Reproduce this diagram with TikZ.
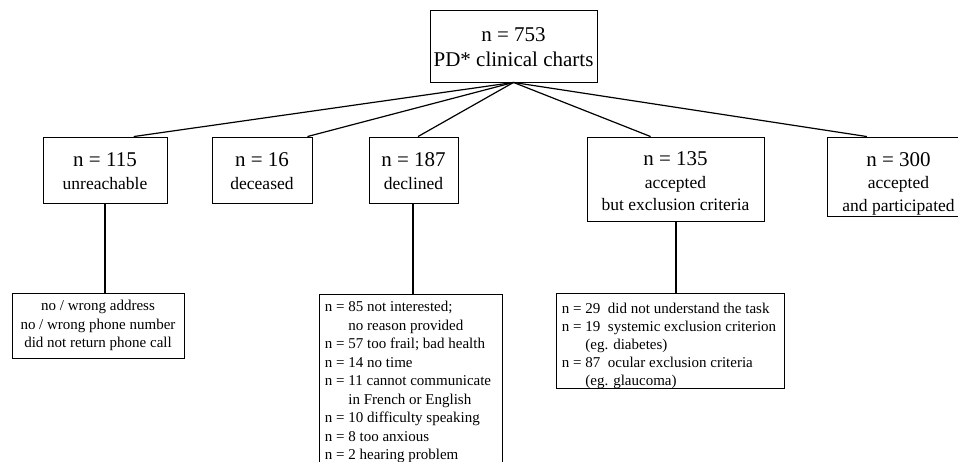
\documentclass[tikz,border=0pt]{standalone}
\usepackage{fontspec}
\setmainfont{Liberation Serif}
\usetikzlibrary{calc}
\begin{document}
\begin{tikzpicture}[x=1pt,y=-1pt,
  box/.style={draw, line width=0.9pt, inner sep=0pt, align=center, font=\fontsize{17.5}{22.5}\selectfont},
  link/.style={line width=1.2pt},
  detail/.style={draw, line width=0.9pt, inner xsep=5.5pt, inner ysep=2pt, font=\fontsize{15}{18.5}\selectfont},
]
\useasboundingbox (0,0) rectangle (958,462);
\clip (0,0) rectangle (958,462);
\newcommand{\bignum}[1]{{\fontsize{21}{22.5}\selectfont #1}}
% top
\node[box, minimum width=167pt, minimum height=72pt, font=\fontsize{21}{25}\selectfont] (top) at (513.5,46) {\rule{0pt}{17pt}n = 753\\PD* clinical charts};
% second row
\node[box, minimum width=124pt, minimum height=66pt] (n115) at (105,170) {\bignum{\rule{0pt}{16pt}n = 115}\\unreachable};
\node[box, minimum width=100pt, minimum height=66pt] (n16) at (262,170) {\bignum{\rule{0pt}{16pt}n = 16}\\deceased};
\node[box, minimum width=89pt, minimum height=66pt] (n187) at (413.5,170) {\bignum{\rule{0pt}{16pt}n = 187}\\declined};
\node[box, minimum width=177pt, minimum height=84pt] (n135) at (675.5,179) {\bignum{\rule{0pt}{19pt}n = 135}\\accepted\\but exclusion criteria};
\node[box, minimum width=143pt, minimum height=79pt] (n300) at (898.5,176.5) {\bignum{\rule{0pt}{28pt}n = 300}\\accepted\\and participated};
% detail boxes
\node[detail, minimum width=172pt, minimum height=65pt, inner sep=0pt, align=center] (d1) at (98,325.5) {no / wrong address\\no / wrong phone number\\did not return phone call};
\node[detail, anchor=north west, align=left] (d2) at (319,294) {%
\rule{0pt}{15.5pt}n = 85 not interested;\\
\hphantom{n =\ }no reason provided\\
n = 57 too frail; bad health\\
n = 14 no time\\
n = 11 cannot communicate\rule{6pt}{0pt}\\
\hphantom{n =\ }in French or English\\
n = 10 difficulty speaking\\
n = 8 too anxious\\
n = 2 hearing problem\\[10pt]};
\node[detail, anchor=north west, align=left, inner ysep=0pt, font=\fontsize{15}{18}\selectfont] (d3) at (556,293) {%
\rule{0pt}{20pt}n = 29\ \ did not understand the task\\
n = 19\ \ systemic exclusion criterion\rule{3pt}{0pt}\\
\hphantom{n =\ }(eg. diabetes)\\
n = 87\ \ ocular exclusion criteria\\
\hphantom{n =\ }(eg. glaucoma)\rule[-3pt]{0pt}{3pt}};
% connectors from top
\draw[link] (top.south) -- ($(n115.north west)!0.73!(n115.north east)$);
\draw[link] (top.south) -- ($(n16.north west)!0.95!(n16.north east)$);
\draw[link] (top.south) -- ($(n187.north west)!0.55!(n187.north east)$);
\draw[link] (top.south) -- ($(n135.north west)!0.36!(n135.north east)$);
\draw[link] (top.south) -- ($(n300.north west)!0.28!(n300.north east)$);
% vertical connectors
\draw[link] (n115.south) -- (n115.south |- d1.north);
\draw[link] ([xshift=-0.5pt]n187.south) -- ([xshift=-0.5pt]n187.south |- d2.north);
\draw[link] ([xshift=0.5pt]n135.south) -- ([xshift=0.5pt]n135.south |- d3.north);
\end{tikzpicture}
\end{document}
